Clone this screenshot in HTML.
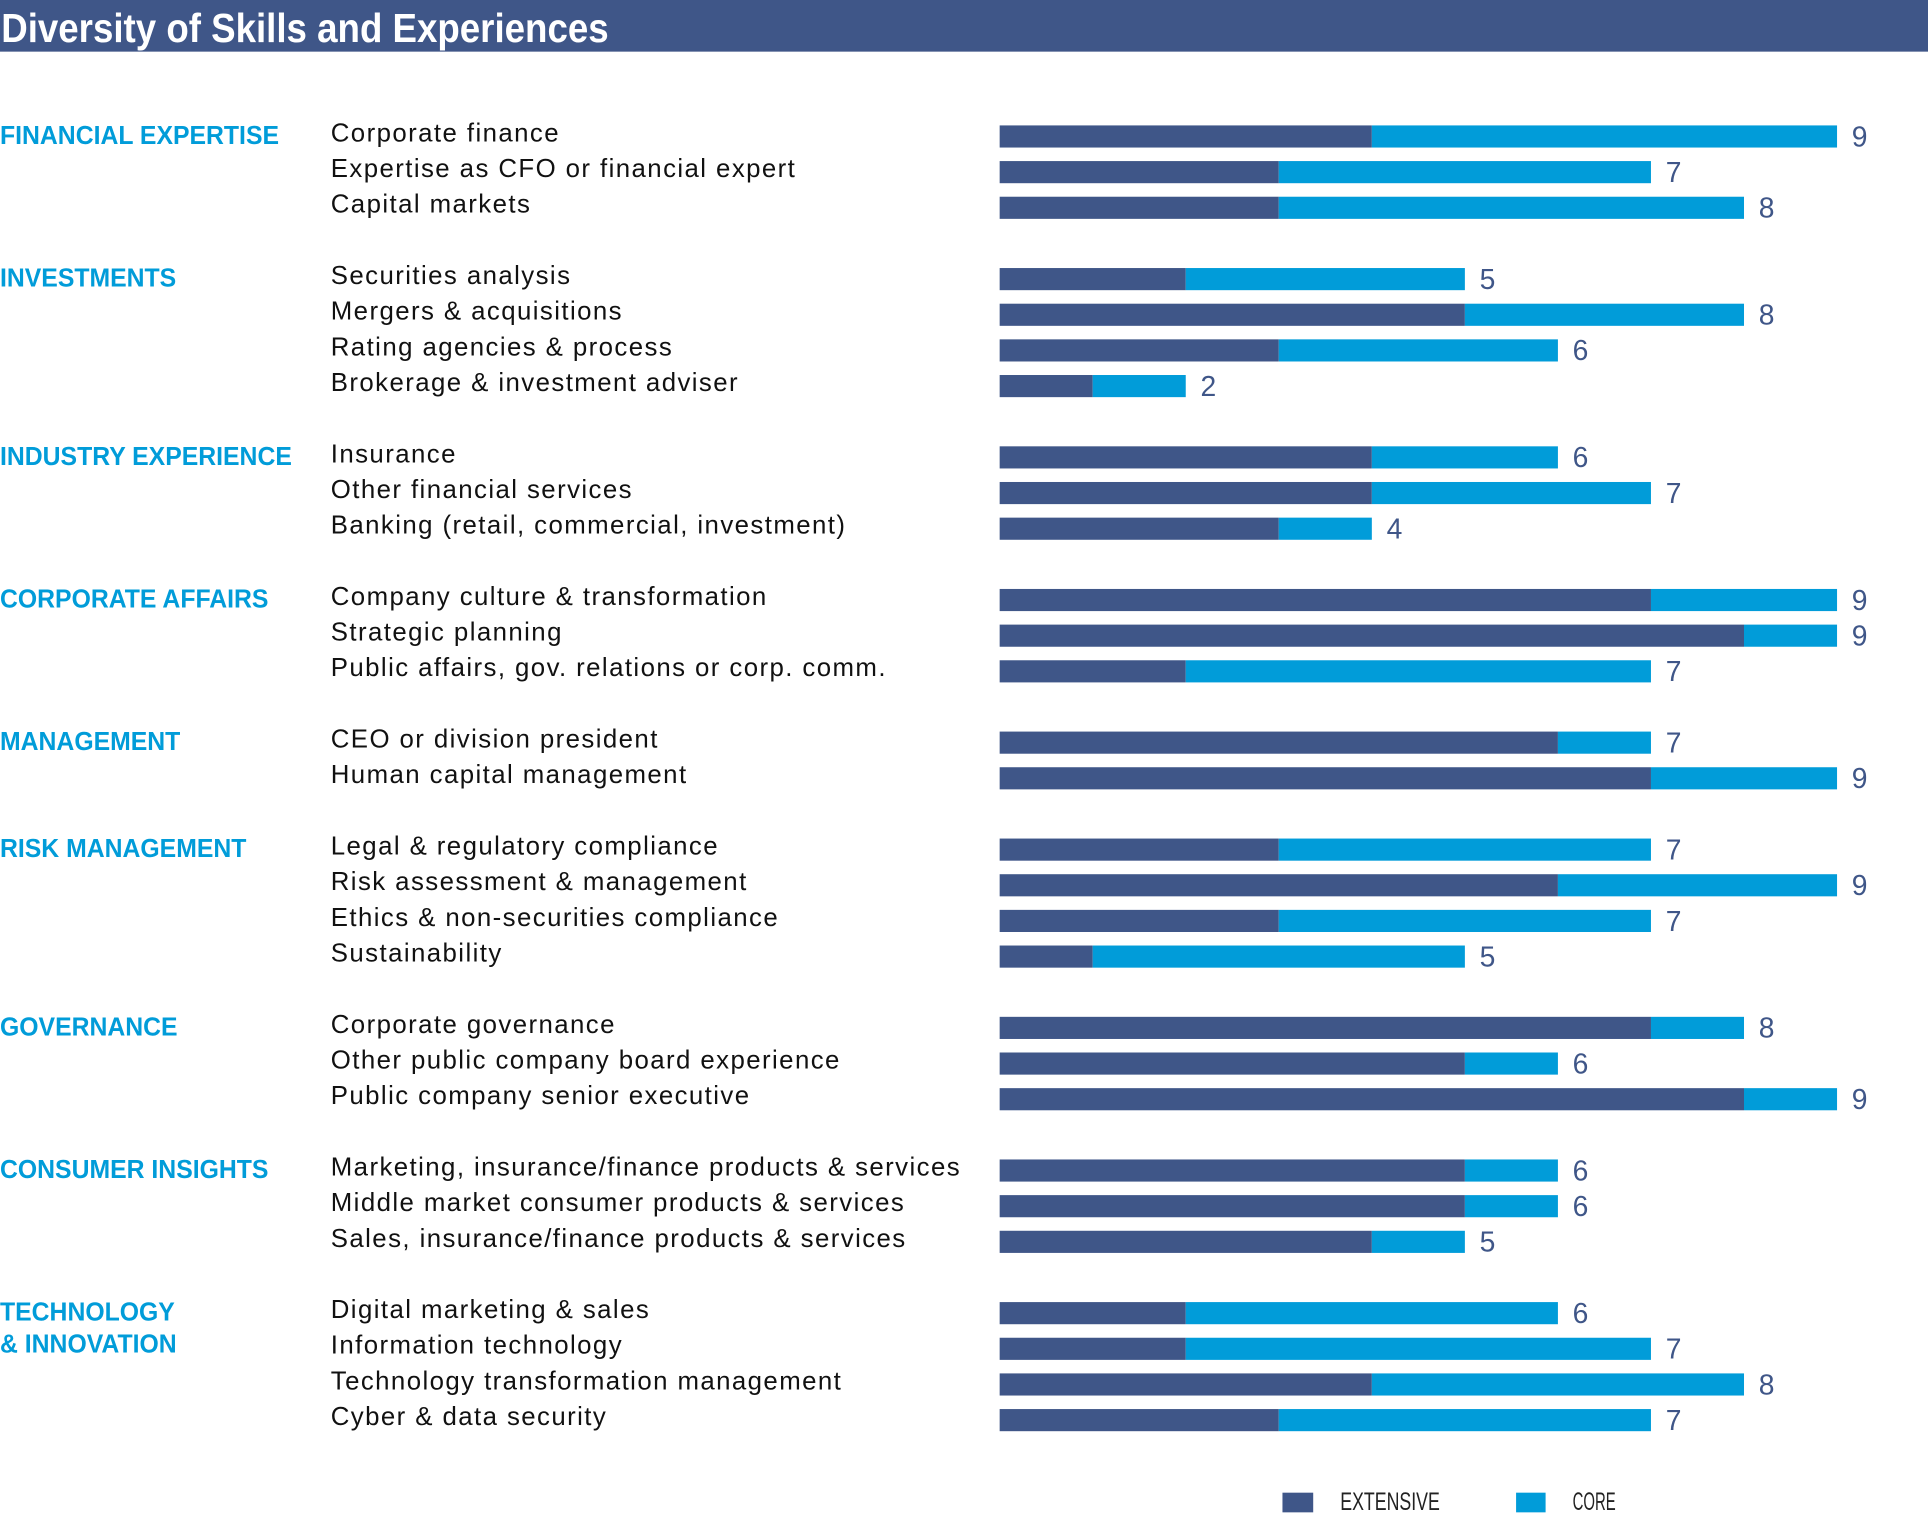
<!DOCTYPE html>
<html><head><meta charset="utf-8"><style>
html,body{margin:0;padding:0;background:#fff;}
svg{display:block;}
</style></head><body>
<svg id="chart" width="1928" height="1518" viewBox="0 0 1568 1234.6" preserveAspectRatio="none" xmlns="http://www.w3.org/2000/svg">
<rect x="0" y="0" width="1568" height="42" fill="#3f5688"/>
<text x="1" y="34" fill="#fff" font-family="Liberation Sans, sans-serif" font-weight="bold" font-size="33" textLength="494" lengthAdjust="spacingAndGlyphs">Diversity of Skills and Experiences</text>
<g id="rows"></g>
<g>
<rect x="1043" y="1214" width="25" height="16" fill="#3f5688"/>
<text x="1090" y="1228" font-family="Liberation Sans, sans-serif" font-size="20" fill="#222" textLength="81" lengthAdjust="spacingAndGlyphs">EXTENSIVE</text>
<rect x="1233" y="1214" width="24" height="16" fill="#019cd9"/>
<text x="1279" y="1228" font-family="Liberation Sans, sans-serif" font-size="20" fill="#222" textLength="35" lengthAdjust="spacingAndGlyphs">CORE</text>
</g>
</svg>
<script>
const categories = ["FINANCIAL EXPERTISE","INVESTMENTS","INDUSTRY EXPERIENCE","CORPORATE AFFAIRS","MANAGEMENT","RISK MANAGEMENT","GOVERNANCE","CONSUMER INSIGHTS","TECHNOLOGY|& INNOVATION"];
const groupOf = [0,0,0,1,1,1,1,2,2,2,3,3,3,4,4,5,5,5,5,6,6,6,7,7,7,8,8,8,8];
const skills = ["Corporate finance","Expertise as CFO or financial expert","Capital markets",
"Securities analysis","Mergers & acquisitions","Rating agencies & process","Brokerage & investment adviser",
"Insurance","Other financial services","Banking (retail, commercial, investment)",
"Company culture & transformation","Strategic planning","Public affairs, gov. relations or corp. comm.",
"CEO or division president","Human capital management",
"Legal & regulatory compliance","Risk assessment & management","Ethics & non-securities compliance","Sustainability",
"Corporate governance","Other public company board experience","Public company senior executive",
"Marketing, insurance/finance products & services","Middle market consumer products & services","Sales, insurance/finance products & services",
"Digital marketing & sales","Information technology","Technology transformation management","Cyber & data security"];
const extensive = [4,3,3, 2,5,3,1, 4,4,3, 7,8,2, 6,7, 3,6,3,1, 7,5,8, 5,5,4, 2,2,4,3];
const total = [9,7,8, 5,8,6,2, 6,7,4, 9,9,7, 7,9, 7,9,7,5, 8,6,9, 6,6,5, 6,7,8,7];

(function(){
const NS="http://www.w3.org/2000/svg";
const g=document.getElementById('rows');
const x0=813, unit=75.67;
const xScale=v=>x0+v*unit;
const rowH=29, groupGap=29, firstY=111;
function yOf(i){return firstY+i*rowH+groupOf[i]*groupGap;}
function mk(tag,attrs){const e=document.createElementNS(NS,tag);for(const k in attrs)e.setAttribute(k,attrs[k]);g.appendChild(e);return e;}
categories.forEach((c,gi)=>{
  const first=groupOf.indexOf(gi);
  const y=yOf(first);
  const t=mk('text',{x:0,y:y+6,fill:'#019cd9','font-family':'Liberation Sans, sans-serif','font-weight':'bold','font-size':'21',transform:'scale(0.96,1)'});
  
  
  c.split('|').forEach((p,k)=>{const s=document.createElementNS(NS,'tspan');s.setAttribute('x',0);s.setAttribute('dy',k?26:0);s.textContent=p;t.appendChild(s);});
});
skills.forEach((s,i)=>{
  const y=yOf(i);
  const t=mk('text',{x:269,y:y+4,fill:'#111','font-family':'Liberation Sans, sans-serif','font-size':'21','letter-spacing':'1.15'});
  
  
  t.textContent=s;
  const b1=mk('rect',{x:xScale(0),y:y-9,width:xScale(extensive[i])-xScale(0),height:18,fill:'#3f5688'});
  
  
  const b2=mk('rect',{x:xScale(extensive[i]),y:y-9,width:xScale(total[i])-xScale(extensive[i]),height:18,fill:'#019cd9'});
  
  
  const v=mk('text',{x:xScale(total[i])+12,y:y+8,fill:'#3f5688','font-family':'Liberation Sans, sans-serif','font-size':'23'});
  
  
  v.textContent=total[i];
});
})();
</script>
</body></html>
